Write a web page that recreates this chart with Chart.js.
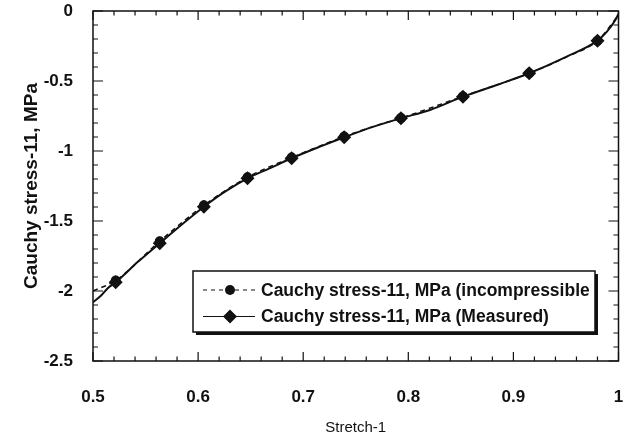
<!DOCTYPE html>
<html>
<head>
<meta charset="utf-8">
<script src="https://cdn.jsdelivr.net/npm/chart.js@4.4.1/dist/chart.umd.min.js"></script>
<style>
  html, body { margin: 0; padding: 0; background: #fff; }
  #wrap { width: 635px; height: 444px; position: relative; }
</style>
</head>
<body>
<div id="wrap"><canvas id="c"></canvas></div>
<script>
// ── data ──────────────────────────────────────────────────────
const xTickLabels = ['0.5', '0.6', '0.7', '0.8', '0.9', '1'];
const yTickLabels = ['-2.5', '-2', '-1.5', '-1', '-0.5', '0'];

const measuredX = [0.5, 0.508, 0.514, 0.5216, 0.543, 0.5635, 0.584, 0.6055, 0.6256, 0.647,
                   0.668, 0.689, 0.716, 0.739, 0.767, 0.793, 0.8207, 0.852, 0.884, 0.915,
                   0.9507, 0.98, 0.989, 0.997, 1.0];
const measuredY = [-2.08, -2.03, -1.98, -1.938, -1.79, -1.659, -1.529, -1.398, -1.29, -1.195,
                   -1.124, -1.052, -0.969, -0.902, -0.826, -0.766, -0.707, -0.612, -0.529, -0.445,
                   -0.326, -0.212, -0.148, -0.065, -0.02];
const measuredMarker = [0, 0, 0, 1, 0, 1, 0, 1, 0, 1, 0, 1, 0, 1, 0, 1, 0, 1, 0, 1, 0, 1, 0, 0, 0];

const incompX = [0.5, 0.5216, 0.5635, 0.6055, 0.647, 0.689, 0.739, 0.767, 0.793, 0.852, 0.915, 0.9507, 0.98, 1.0];
const incompY = [-2.0, -1.925, -1.645, -1.388, -1.188, -1.047, -0.897, -0.824, -0.765, -0.61, -0.445, -0.328, -0.212, -0.03];
const incompMarker = [0, 1, 1, 1, 1, 1, 1, 0, 1, 1, 1, 0, 1, 0];

const seriesNames = ['Cauchy stress-11, MPa (incompressible', 'Cauchy stress-11, MPa (Measured)'];

// ── styling ───────────────────────────────────────────────────
const INK = '#111';
const FONT = "'Liberation Sans', Arial, sans-serif";

const pts = (xs, ys) => xs.map((x, i) => ({ x, y: ys[i] }));

// frame with inside ticks on all four sides
const framePlugin = {
  id: 'frame',
  afterDatasetsDraw(chart) {
    const { ctx, chartArea: a, scales: { x, y } } = chart;
    ctx.save();
    ctx.strokeStyle = INK;
    ctx.lineWidth = 1.5;
    ctx.strokeRect(a.left, a.top, a.right - a.left, a.bottom - a.top);
    ctx.lineWidth = 1.2;
    ctx.beginPath();
    for (let i = 0; i <= 25; i++) {
      const px = x.getPixelForValue(0.5 + i * 0.02);
      const len = i % 5 === 0 ? 9 : 4.5;
      ctx.moveTo(px, a.bottom); ctx.lineTo(px, a.bottom - len);
      ctx.moveTo(px, a.top); ctx.lineTo(px, a.top + len);
    }
    for (let i = 0; i <= 25; i++) {
      const py = y.getPixelForValue(-2.5 + i * 0.1);
      const len = i % 5 === 0 ? 10 : 5;
      ctx.moveTo(a.left, py); ctx.lineTo(a.left + len, py);
      ctx.moveTo(a.right, py); ctx.lineTo(a.right - len, py);
    }
    ctx.stroke();
    ctx.restore();
  }
};

// boxed legend with drop shadow, bottom right of the plot
const legendPlugin = {
  id: 'boxLegend',
  afterDraw(chart) {
    const { ctx } = chart;
    const L = 193, T = 271, R = 595, B = 332;
    ctx.save();
    ctx.fillStyle = INK;
    ctx.fillRect(L + 3, T + 3, R - L, B - T);
    ctx.fillStyle = '#fff';
    ctx.fillRect(L, T, R - L, B - T);
    ctx.strokeStyle = INK;
    ctx.lineWidth = 1.5;
    ctx.strokeRect(L, T, R - L, B - T);

    const rows = [290, 316.5];
    chart.data.datasets.slice().reverse().forEach((ds, i) => {
      const yy = rows[i];
      ctx.strokeStyle = INK;
      ctx.lineWidth = 1.2;
      ctx.setLineDash(ds.borderDash ? [4, 4] : []);
      ctx.beginPath();
      ctx.moveTo(203, yy); ctx.lineTo(255, yy);
      ctx.stroke();
      ctx.setLineDash([]);
      ctx.fillStyle = INK;
      ctx.beginPath();
      if (ds.pointStyle === 'rectRot') {
        const r = 7;
        ctx.moveTo(230, yy - r); ctx.lineTo(230 + r, yy); ctx.lineTo(230, yy + r); ctx.lineTo(230 - r, yy);
        ctx.closePath();
      } else {
        ctx.arc(230, yy, 5, 0, Math.PI * 2);
      }
      ctx.fill();
      ctx.font = `bold 17.5px ${FONT}`;
      ctx.textBaseline = 'middle';
      ctx.textAlign = 'left';
      ctx.fillText(ds.label, 261, yy + 1);
    });
    ctx.restore();
  }
};

new Chart(document.getElementById('c'), {
  type: 'line',
  data: {
    datasets: [
      {
        label: seriesNames[1],
        data: pts(measuredX, measuredY),
        borderColor: INK,
        backgroundColor: INK,
        borderWidth: 2,
        cubicInterpolationMode: 'monotone',
        pointStyle: 'rectRot',
        pointRadius: (c) => measuredMarker[c.dataIndex] ? 7 : 0,
        pointBorderWidth: 0
      },
      {
        label: seriesNames[0],
        data: pts(incompX, incompY),
        borderColor: INK,
        backgroundColor: INK,
        borderWidth: 1.5,
        borderDash: [5, 4],
        cubicInterpolationMode: 'monotone',
        pointStyle: 'circle',
        pointRadius: (c) => incompMarker[c.dataIndex] ? 5 : 0,
        pointBorderWidth: 0
      }
    ]
  },
  options: {
    responsive: true,
    maintainAspectRatio: false,
    animation: false,
    layout: { padding: { left: 0, top: 11, right: 16.5, bottom: 0 } },
    plugins: { legend: { display: false }, tooltip: { enabled: false } },
    scales: {
      x: {
        type: 'linear',
        min: 0.5, max: 1,
        grid: { display: false },
        border: { display: false },
        afterFit: (s) => { s.height = 83; s.paddingLeft = 0; s.paddingRight = 0; },
        ticks: {
          stepSize: 0.1,
          maxRotation: 0,
          padding: 18,
          color: INK,
          font: { family: FONT, size: 17, weight: 'bold' },
          callback: (v, i) => xTickLabels[i]
        },
        title: {
          display: true,
          text: 'Stretch-1',
          color: INK,
          font: { family: FONT, size: 15 },
          padding: { top: 0, bottom: 7 }
        }
      },
      y: {
        type: 'linear',
        min: -2.5, max: 0,
        grid: { display: false },
        border: { display: false },
        afterFit: (s) => { s.width = 93; s.paddingTop = 0; s.paddingBottom = 0; },
        ticks: {
          stepSize: 0.5,
          padding: 12,
          color: INK,
          font: { family: FONT, size: 17, weight: 'bold' },
          callback: (v, i) => yTickLabels[i]
        },
        title: {
          display: true,
          text: 'Cauchy stress-11, MPa',
          color: INK,
          font: { family: FONT, size: 19, weight: 'bold' },
          padding: { top: 20, bottom: 0 }
        }
      }
    }
  },
  plugins: [framePlugin, legendPlugin]
});
</script>
</body>
</html>
